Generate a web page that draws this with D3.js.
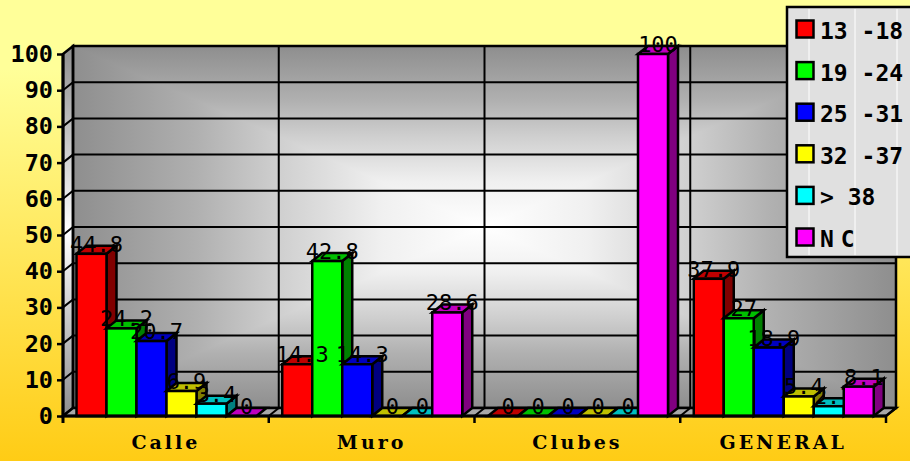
<!DOCTYPE html>
<html>
<head>
<meta charset="utf-8" />
<style>
html, body { margin: 0; padding: 0; background: #fff; }
svg { display: block; }
.val { font: 22px "DejaVu Sans Mono", monospace; fill: #000; text-anchor: middle; }
.ytick text { font: bold 23.5px "DejaVu Sans Mono", monospace; }
.xtick text { font: bold 19px "DejaVu Serif", serif; }
.leg { font: bold 23px "DejaVu Sans Mono", monospace; }
</style>
<script src="https://cdn.jsdelivr.net/npm/d3@7"></script>
</head>
<body>
<script>
var categories = ["Calle", "Muro", "Clubes", "GENERAL"];
var seriesNames = ["13 -18", "19 -24", "25 -31", "32 -37", "> 38", "NC"];
var seriesColors = ["#ff0000", "#00ff00", "#0000ff", "#ffff00", "#00ffff", "#ff00ff"];
var values13 = [44.8, 14.3, 0, 37.9];
var values19 = [24.2, 42.8, 0, 27];
var values25 = [20.7, 14.3, 0, 18.9];
var values32 = [6.9, 0, 0, 5.4];
var values38 = [3.4, 0, 0, 2.7];
var valuesNC = [0, 28.6, 100, 8.1];
var allValues = [values13, values19, values25, values32, values38, valuesNC];
var yTicks = [0, 10, 20, 30, 40, 50, 60, 70, 80, 90, 100];

var width = 910, height = 461;
var dx = 10, dy = -8;      // 3d depth offset
var left = 63, right = 886, bottom = 416, top_ = 54;

var svg = d3.select("body").append("svg").attr("width", width).attr("height", height);
var defs = svg.append("defs");

var bg = defs.append("linearGradient").attr("id", "bg").attr("x1", 0).attr("y1", 0).attr("x2", 0).attr("y2", 1);
bg.append("stop").attr("offset", 0).attr("stop-color", "#ffff99");
bg.append("stop").attr("offset", 0.15).attr("stop-color", "#ffff99");
bg.append("stop").attr("offset", 1).attr("stop-color", "#ffcc15");

var sideGrad = defs.append("linearGradient").attr("id", "side").attr("x1", 0).attr("y1", 0).attr("x2", 0).attr("y2", 1);
sideGrad.append("stop").attr("offset", 0).attr("stop-color", "#8e8e8e");
sideGrad.append("stop").attr("offset", 0.5).attr("stop-color", "#ffffff");
sideGrad.append("stop").attr("offset", 1).attr("stop-color", "#8e8e8e");

svg.append("rect").attr("width", width).attr("height", height).attr("fill", "url(#bg)");

var x = d3.scaleBand().domain(categories).range([left, right]);
var y = d3.scaleLinear().domain([0, 100]).range([bottom, top_]);
var xInner = d3.scaleBand().domain(seriesNames).range([13.5, 193.5]);

function poly(pts) { return pts.map(function(p) { return p.join(","); }).join(" "); }

// back wall shading: box gradient, one triangle per edge
var wx0 = left + dx, wx1 = right + dx, wy0 = y(100) + dy, wy1 = y(0) + dy;
var wcx = (wx0 + wx1) / 2, wcy = (wy0 + wy1) / 2;
[
	["wallT", wcx, wy0, wcx, wcy, [[wx0, wy0], [wx1, wy0]]],
	["wallB", wcx, wy1, wcx, wcy, [[wx0, wy1], [wx1, wy1]]],
	["wallL", wx0, wcy, wcx, wcy, [[wx0, wy0], [wx0, wy1]]],
	["wallR", wx1, wcy, wcx, wcy, [[wx1, wy0], [wx1, wy1]]]
].forEach(function(t) {
	var g = defs.append("linearGradient").attr("id", t[0]).attr("gradientUnits", "userSpaceOnUse")
		.attr("x1", t[1]).attr("y1", t[2]).attr("x2", t[3]).attr("y2", t[4]);
	g.append("stop").attr("offset", 0).attr("stop-color", "#8e8e8e");
	g.append("stop").attr("offset", 0.3).attr("stop-color", "#b0b0b0");
	g.append("stop").attr("offset", 0.5).attr("stop-color", "#cfcfcf");
	g.append("stop").attr("offset", 0.75).attr("stop-color", "#f0f0f0");
	g.append("stop").attr("offset", 1).attr("stop-color", "#ffffff");
	svg.append("polygon").attr("points", poly([t[5][0], t[5][1], [wcx, wcy]]))
		.attr("fill", "url(#" + t[0] + ")").attr("shape-rendering", "crispEdges");
});

// walls and floor
svg.append("polygon")
	.attr("points", poly([[left, y(100)], [left + dx, y(100) + dy], [left + dx, y(0) + dy], [left, y(0)]]))
	.attr("fill", "url(#side)").attr("stroke", "#000").attr("stroke-width", 2.5);
svg.append("rect")
	.attr("x", wx0).attr("y", wy0)
	.attr("width", wx1 - wx0).attr("height", wy1 - wy0)
	.attr("fill", "none").attr("stroke", "#000").attr("stroke-width", 2.5);
svg.append("polygon")
	.attr("points", poly([[left, y(0)], [left + dx, y(0) + dy], [right + dx, y(0) + dy], [right, y(0)]]))
	.attr("fill", "#a8a8a8").attr("stroke", "#000").attr("stroke-width", 2.5);

// gridlines
var grid = svg.append("g").attr("fill", "none").attr("stroke", "#000").attr("stroke-width", 2);
yTicks.slice(1, -1).forEach(function(t) {
	grid.append("polyline").attr("points", poly([[left, y(t)], [left + dx, y(t) + dy], [right + dx, y(t) + dy]]));
});
categories.forEach(function(c) {
	var xr = x(c) + x.bandwidth();
	grid.append("line").attr("x1", xr + dx).attr("x2", xr + dx).attr("y1", y(100) + dy).attr("y2", y(0) + dy);
	grid.append("line").attr("x1", xr).attr("x2", xr + dx).attr("y1", y(0)).attr("y2", y(0) + dy);
});

// bars, NC series is painted last, over the other series' labels
var bars = svg.append("g");
var labelsA = svg.append("g");
var barsNC = svg.append("g");
var labelsB = svg.append("g");
[bars, barsNC].forEach(function(g) { g.attr("stroke", "#000").attr("stroke-width", 2.5); });

function addLabel(g, d) {
	g.append("text").attr("class", "val").attr("x", d.x).attr("y", d.y).text(d.v);
}

categories.forEach(function(c, ci) {
	seriesNames.forEach(function(s, si) {
		var v = allValues[si][ci];
		var col = d3.rgb(seriesColors[si]);
		var x0 = x(c) + xInner(s), x1 = x0 + xInner.bandwidth();
		var yt = y(v), yb = y(0);
		var g = si == 5 ? barsNC : bars;
		if (v > 0) {
			g.append("polygon")
				.attr("points", poly([[x1, yt], [x1 + dx, yt + dy], [x1 + dx, yb + dy], [x1, yb]]))
				.attr("fill", d3.rgb(col.r * 0.5, col.g * 0.5, col.b * 0.5));
		}
		g.append("polygon")
			.attr("points", poly([[x0, yt], [x0 + dx, yt + dy], [x1 + dx, yt + dy], [x1, yt]]))
			.attr("fill", d3.rgb(col.r * 0.75, col.g * 0.75, col.b * 0.75));
		if (v > 0) {
			g.append("rect")
				.attr("x", x0).attr("y", yt).attr("width", x1 - x0).attr("height", yb - yt)
				.attr("fill", col);
		}
		addLabel(si == 5 ? labelsB : labelsA, { v: v, x: (x0 + x1) / 2 + dx / 2, y: yt - 2 });
	});
});

// axes
var yAxis = d3.axisLeft(y).tickValues(yTicks).tickSize(6).tickPadding(4);
var gy = svg.append("g").attr("class", "ytick").attr("transform", "translate(" + left + ",0)").call(yAxis);
gy.select(".domain").remove();
gy.selectAll("line").attr("stroke", "#000").attr("stroke-width", 2.5);
gy.selectAll("text").attr("fill", "#000");
svg.append("line").attr("x1", left).attr("x2", left).attr("y1", y(100)).attr("y2", y(0) + 7)
	.attr("stroke", "#000").attr("stroke-width", 3);
svg.append("line").attr("x1", left).attr("x2", right).attr("y1", y(0)).attr("y2", y(0))
	.attr("stroke", "#000").attr("stroke-width", 3);

var xAxis = d3.axisBottom(x).tickSize(0).tickPadding(20);
var gx = svg.append("g").attr("class", "xtick").attr("transform", "translate(0," + bottom + ")").call(xAxis);
gx.select(".domain").remove();
gx.selectAll("text").attr("fill", "#000").style("letter-spacing", "3px");
categories.forEach(function(c) {
	svg.append("line").attr("x1", x(c) + x.bandwidth()).attr("x2", x(c) + x.bandwidth())
		.attr("y1", bottom).attr("y2", bottom + 7).attr("stroke", "#000").attr("stroke-width", 2.5);
});

// legend
var legend = svg.append("g");
legend.append("rect").attr("x", 787).attr("y", 7).attr("width", 130).attr("height", 250)
	.attr("fill", "#e0e0e0").attr("stroke", "#000").attr("stroke-width", 2.5);
[809, 855, 897].forEach(function(lx) {
	legend.append("line").attr("x1", lx).attr("x2", lx).attr("y1", 9).attr("y2", 255)
		.attr("stroke", "#fff").attr("stroke-width", 1);
});
var legendY = d3.scalePoint().domain(seriesNames).range([29, 237]);
seriesNames.forEach(function(s, i) {
	legend.append("rect").attr("x", 796.5).attr("y", legendY(s) - 8.5).attr("width", 17).attr("height", 17)
		.attr("fill", seriesColors[i]).attr("stroke", "#000").attr("stroke-width", 2.5);
	legend.append("text").attr("class", "leg").attr("x", 820).attr("y", legendY(s) + 10)
		.style("letter-spacing", s == "NC" ? "7px" : null)
		.text(s);
});
</script>
</body>
</html>
